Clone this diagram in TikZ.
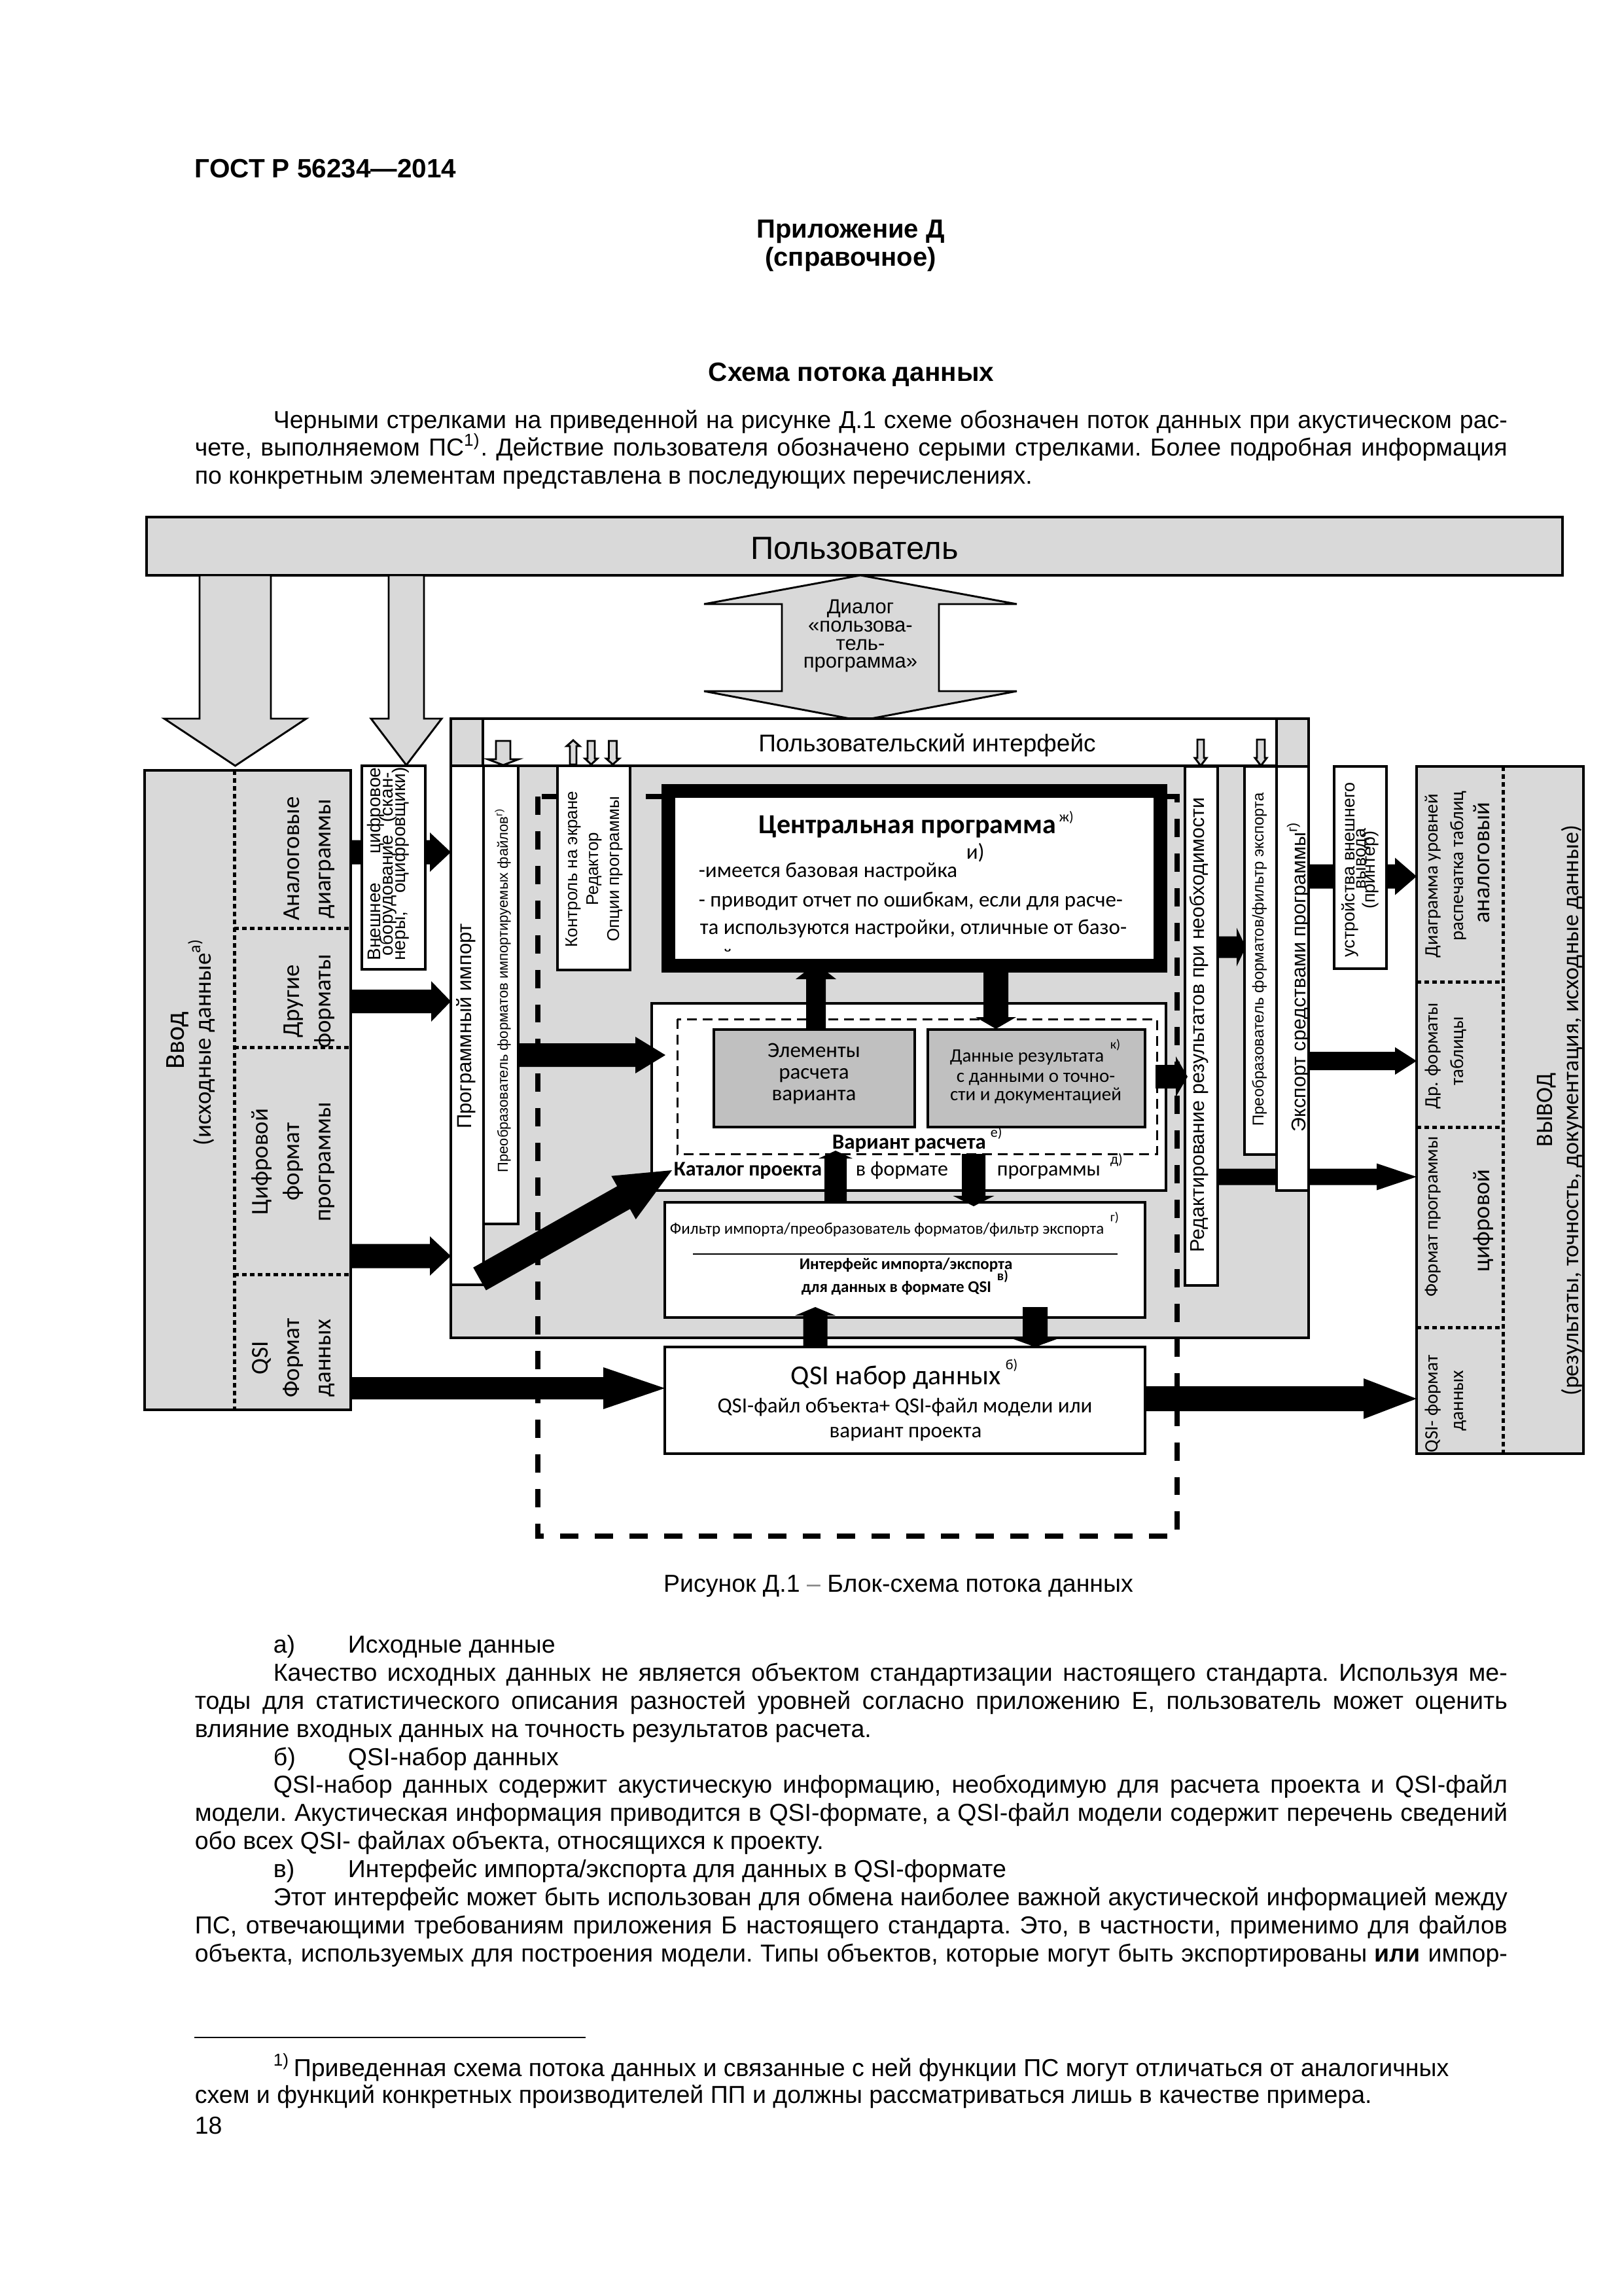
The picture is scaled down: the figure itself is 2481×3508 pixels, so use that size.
\documentclass[tikz,border=0pt]{standalone}
\usepackage{fontspec}
\setmainfont{Liberation Sans}
\newfontfamily\calf{Carlito}
\usetikzlibrary{fit}
\newdimen\px \px=0.24pt
\newcommand\fs[2]{\edef\fsA{\the\dimexpr#1\px\relax}\edef\fsB{\the\dimexpr#2\px\relax}\fontsize{\fsA}{\fsB}\selectfont}
\newcommand\bodyf{\fs{37.5}{43}\frenchspacing}
\definecolor{lg}{RGB}{217,217,217}
\definecolor{mg}{RGB}{192,192,192}
\tikzset{
 box/.style={draw, line width=0.84pt, inner sep=0pt, fill=white},
 gbox/.style={box, fill=lg},
 blk/.style={fill=black},
 garr/.style={draw, fill=lg, line width=0.7pt, line join=miter},
 dotl/.style={line width=1.2pt, dash pattern=on 1.68pt off 1.2pt},
 bigdash/.style={line width=1.92pt, dash pattern=on 6.7pt off 6pt},
 smalldash/.style={line width=0.72pt, dash pattern=on 3.6pt off 2.16pt},
 rt/.style={rotate=90, anchor=base, inner sep=0pt},
 t/.style={inner sep=0pt},
}
\newcommand\harr[6]{\fill ({#1},{#3-(#4)}) -- ({#2-(#6)},{#3-(#4)}) -- ({#2-(#6)},{#3-(#5)}) -- ({#2},{#3}) -- ({#2-(#6)},{#3+(#5)}) -- ({#2-(#6)},{#3+(#4)}) -- ({#1},{#3+(#4)}) -- cycle;}
\newcommand\varr[7][blk]{\path[#1] ({#2-(#5)},{#3}) -- ({#2-(#5)},{#4-(#7)}) -- ({#2-(#6)},{#4-(#7)}) -- ({#2},{#4}) -- ({#2+(#6)},{#4-(#7)}) -- ({#2+(#5)},{#4-(#7)}) -- ({#2+(#5)},{#3}) -- cycle;}
\newcommand\jl[4]{\node[t,anchor=base west] at (#1,#2) {\bodyf\hbox to #3\px{#4}};}
\newcommand\nl[3]{\node[t,anchor=base west] at (#1,#2) {\bodyf #3};}
\begin{document}
\begin{tikzpicture}[x=0.24pt,y=-0.24pt]
\fill[white] (0,0) rectangle (2481,3508);
\useasboundingbox (0,0) rectangle (2481,3508);

% ---------- page header ----------
\node[t,anchor=base west] at (297,272) {\bfseries\fs{40.5}{46}ГОСТ Р 56234—2014};
\node[t,anchor=base] (app) at (1300,364) {\bfseries\fs{40}{46}Приложение Д};
\node[t,anchor=base] (ref) at (1300,407) {\bfseries\fs{40}{46}(справочное)};
\node[t,anchor=base] (ttl) at (1301,583) {\bfseries\fs{40.5}{46}Схема потока данных};
\jl{417}{655}{1886}{Черными стрелками на приведенной на рисунке Д.1 схеме обозначен поток данных при акустическом рас-}
\jl{297}{697}{2006}{чете, выполняемом ПС\textsuperscript{1)}. Действие пользователя обозначено серыми стрелками. Более подробная информация}
\nl{297}{740}{по конкретным элементам представлена в последующих перечислениях.}

% ---------- user bar ----------
\node[gbox, line width=0.9pt, fit={(224,790) (2388,879)}] (user) {};
\node[t,anchor=base] at (1306,855) {\fs{49}{55}Пользователь};

\varr[garr]{359.5}{879}{1170}{54.5}{108.5}{72}
\varr[garr]{621}{879}{1169}{27}{54}{71}
\filldraw[garr] (1195,923) -- (1076,923) -- (1315,879) -- (1554,923) -- (1435,923) -- (1435,1056) -- (1554,1056) -- (1315,1101) -- (1076,1056) -- (1195,1056) -- cycle;
\node[t,anchor=base] at (1315,937) {\fs{31}{28}Диалог};
\node[t,anchor=base] at (1315,965) {\fs{31}{28}«пользова-};
\node[t,anchor=base] at (1315,993) {\fs{31}{28}тель-};
\node[t,anchor=base] at (1315,1020) {\fs{31}{28}программа»};

% ---------- program area ----------
\node[gbox, fit={(689,1098) (2000,2044)}] (prog) {};
\node[box, fit={(738,1098) (1951,1170)}] (ui) {};
\node[t,anchor=base] at (1417,1148) {\fs{37}{40}Пользовательский интерфейс};

\draw[bigdash] (822,1217) rectangle (1799,2347);

\node[box, fit={(689,1170) (739,1963)}] (imp) {};
\node[box, fit={(739,1170) (792,1870)}] (conv) {};
\node[box, fit={(852,1170) (963,1482)}] (ctl) {};
\node[draw, line width=5.04pt, fill=white, inner sep=0pt, fit={(1021,1208) (1773,1475)}] (cp) {};
\node[box, fit={(996,1533) (1782,1819)}] (cat) {};
\draw[smalldash] (1035,1557) rectangle (1768,1763);
\node[box, fill=mg, fit={(1091,1573) (1398,1722)}] (elem) {};
\node[box, fill=mg, fit={(1418,1573) (1750,1722)}] (dat) {};
\node[box, fit={(1016,1837) (1750,2013)}] (filt) {};
\node[box, line width=1.08pt, fit={(1016,2058) (1750,2221)}] (qsi) {};
\node[box, fit={(1811,1171) (1861,1964)}] (red) {};
\node[box, fit={(1902,1171) (1951,1764)}] (cexp) {};
\node[box, fit={(1951,1171) (2000,1819)}] (exp) {};

% small grey arrows in the interface band
\varr[garr]{769}{1132}{1169}{11}{23.5}{9}
\varr[garr]{876}{1168}{1131}{5}{10}{-9}
\varr[garr]{903.5}{1132}{1168}{5.5}{9.5}{9}
\varr[garr]{936.5}{1132}{1168}{6}{10}{9}
\varr[garr]{1835}{1130}{1170}{5}{9}{12}
\varr[garr]{1927}{1130}{1170}{6}{9}{12}

% texts of the inner boxes
\node[t,anchor=base west] at (1159,1273) {\calf\bfseries\fs{42}{48}Центральная программа};
\node[t,anchor=base west] at (1618,1255) {\calf\fs{22}{24}ж)};
\node[t,anchor=base west] at (1476,1312) {\calf\fs{33}{36}и)};
\node[t,anchor=base west] at (1067,1340) {\calf\fs{33}{36}-имеется базовая настройка};
\node[t,anchor=base west] at (1067,1385) {\calf\fs{33}{36}- приводит отчет по ошибкам, если для расче-};
\node[t,anchor=base west] at (1069,1427) {\calf\fs{33}{36}та используются настройки, отличные от базо-};
\begin{scope}
\clip (1036,1219) rectangle (1763,1453);
\node[t,anchor=base west] at (1069,1472) {\calf\fs{33}{36}вой.};
\end{scope}

\node[t,anchor=base] at (1244,1615) {\calf\fs{33}{36}Элементы};
\node[t,anchor=base] at (1244,1648) {\calf\fs{33}{36}расчета};
\node[t,anchor=base] at (1244,1681) {\calf\fs{33}{36}варианта};
\node[t,anchor=base west] at (1451,1622) {\calf\fs{29}{32}Данные результата};
\node[t,anchor=base west] at (1696,1602) {\calf\fs{20}{22}к)};
\node[t,anchor=base] at (1583,1653) {\calf\fs{29}{32}с данными о точно-};
\node[t,anchor=base] at (1583,1681) {\calf\fs{29}{32}сти и документацией};
\node[t,anchor=base west] at (1271,1755) {\calf\bfseries\fs{33}{36}Вариант расчета};
\node[t,anchor=base west] at (1513,1737) {\calf\fs{22}{24}е)};
\node[t,anchor=base west] at (1029,1796) {\calf\bfseries\fs{32}{36}Каталог проекта};
\node[t,anchor=base west] at (1307,1796) {\calf\fs{32}{36}в формате};
\node[t,anchor=base west] at (1523,1796) {\calf\fs{32}{36}программы};
\node[t,anchor=base west] at (1696,1778) {\calf\fs{22}{24}д)};
\node[t,anchor=base west] at (1023,1885) {\calf\fs{25}{28}Фильтр импорта/преобразователь форматов/фильтр экспорта};
\node[t,anchor=base west] at (1696,1866) {\calf\fs{20}{22}г)};
\draw[line width=0.5pt] (1059,1916) -- (1708,1916);
\node[t,anchor=base west] at (1221,1939) {\calf\bfseries\fs{25}{28}Интерфейс импорта/экспорта};
\node[t,anchor=base west] at (1523,1956) {\calf\bfseries\fs{21}{24}в)};
\node[t,anchor=base west] at (1224,1974) {\calf\bfseries\fs{25}{28}для данных в формате QSI};
\node[t,anchor=base west] at (1208,2115) {\calf\fs{42}{46}QSI набор данных};
\node[t,anchor=base west] at (1536,2092) {\calf\fs{22}{24}б)};
\node[t,anchor=base] at (1383,2158) {\calf\fs{33}{36}QSI-файл объекта+ QSI-файл модели или};
\node[t,anchor=base] at (1384,2196) {\calf\fs{33}{36}вариант проекта};

% rotated texts of the columns
\node[rt] at (720,1568) {\fs{31}{34}Программный импорт};
\node[rt] at (776,1513) {\fs{22}{24}Преобразователь форматов импортируемых файлов\textsuperscript{г)}};
\node[rt] at (882,1328) {\fs{26}{28}Контроль на экране};
\node[rt] at (914,1328) {\fs{26}{28}Редактор};
\node[rt] at (946,1328) {\fs{26}{28}Опции программы};
\node[rt] at (1840,1566) {\fs{30.5}{34}Редактирование результатов при необходимости};
\node[rt] at (1931,1466) {\fs{24}{26}Преобразователь форматов/фильтр экспорта};

% ---------- input box ----------
\node[gbox, line width=0.9pt, fit={(221,1177) (536,2154)}] (vvod) {};
\draw[dotl] (358,1177) -- (358,2154);
\draw[dotl] (358,1418) -- (536,1418);
\draw[dotl] (358,1600) -- (536,1600);
\draw[dotl] (358,1947) -- (536,1947);
\node[rt] at (281,1590) {\calf\fs{42}{46}Ввод};
\node[rt] at (322,1592) {\calf\fs{37}{40}(исходные данные\textsuperscript{а)}};
\node[rt] at (457,1312) {\calf\fs{37}{40}Аналоговые};
\node[rt] at (505,1312) {\calf\fs{37}{40}диаграммы};
\node[rt] at (457,1530) {\calf\fs{37}{40}Другие};
\node[rt] at (505,1530) {\calf\fs{37}{40}форматы};
\node[rt] at (409,1775) {\calf\fs{37}{40}Цифровой};
\node[rt] at (457,1775) {\calf\fs{37}{40}формат};
\node[rt] at (505,1775) {\calf\fs{37}{40}программы};
\node[rt] at (409,2075) {\calf\fs{37}{40}QSI};
\node[rt] at (457,2075) {\calf\fs{37}{40}Формат};
\node[rt] at (505,2075) {\calf\fs{37}{40}данных};

% ---------- black arrows ----------
\harr{536}{689}{1302}{18.5}{30}{32}
\harr{536}{689}{1530}{18}{31}{30}
\harr{536}{689}{1919}{18.5}{30}{32}
\harr{536}{1016}{2121}{17}{32}{94}
\harr{792}{1017}{1612}{18}{28}{46}
\fill (723.2,1936.6) -- (943.2,1812.4) -- (934.3,1796.7) -- (1027,1788) -- (971.7,1862.9) -- (962.8,1847.2) -- (742.8,1971.4) -- cycle;
\varr{1247}{1573}{1472}{15}{31}{-24}
\varr{1522}{1483}{1572}{19}{31}{18}
\varr{1277}{1837}{1758}{17}{26}{-12}
\varr{1488}{1763}{1843}{18}{31.5}{16}
\varr{1246}{2058}{1997}{18.5}{31}{-13}
\varr{1582}{1997}{2058}{19}{33}{12}
\harr{1766}{1815}{1645}{18}{31}{18}
\harr{1861}{1904}{1447}{16.5}{29.5}{14}
\harr{1861}{2165}{1798}{12.5}{20.5}{61}
\harr{2000}{2165}{1621}{14}{21}{33}
\harr{2000}{2165}{1339}{18.5}{28.5}{33}
\harr{1750}{2165}{2137}{19}{31}{81}
% export column lies over the arrow passing behind it
\node[box, fit={(1951,1171) (2000,1819)}] (exp2) {};
\node[rt] at (1995,1492) {\fs{30.5}{34}Экспорт средствами программы\textsuperscript{г)}};

% ---------- external equipment ----------
\node[box, fit={(553,1170) (650,1481)}] (ext) {};
\node[rt] at (581,1320) {\fs{28}{20}\hbox to 295\px{Внешнее\hfill цифровое}};
\node[rt] at (600,1320) {\fs{28}{20}\hbox to 280\px{оборудование\hfill(скан-}};
\node[rt] at (619,1320) {\fs{28}{20}\hbox to 295\px{неры,\hfill оцифровщики)}};

\node[box, fit={(2039,1171) (2119,1480)}] (dev) {};
\node[rt] at (2070,1329) {\fs{27}{28}устройства внешнего};
\node[rt] at (2087,1312) {\fs{27}{28}вывода};
\node[rt] at (2101,1329) {\fs{27}{28}(принтер)};

% ---------- output box ----------
\node[gbox, line width=0.9pt, fit={(2165,1171) (2420,2221)}] (out) {};
\draw[dotl] (2297,1171) -- (2297,2221);
\draw[dotl] (2165,1500) -- (2297,1500);
\draw[dotl] (2165,1722) -- (2297,1722);
\draw[dotl] (2165,2028) -- (2297,2028);
\node[rt] at (2197,1338) {\calf\fs{29}{32}Диаграмма уровней};
\node[rt] at (2236,1323) {\calf\fs{29}{32}распечатка таблиц};
\node[rt] at (2276,1318) {\calf\fs{36.5}{40}аналоговый};
\node[rt] at (2197,1613) {\calf\fs{29}{32}Др. форматы};
\node[rt] at (2236,1606) {\calf\fs{29}{32}таблицы};
\node[rt] at (2197,1859) {\calf\fs{29}{32}Формат программы};
\node[rt] at (2276,1865) {\calf\fs{36.5}{40}цифровой};
\node[rt] at (2197,2145) {\calf\fs{29}{32}QSI- формат};
\node[rt] at (2236,2140) {\calf\fs{29}{32}данных};
\node[rt] at (2372,1696) {\calf\fs{36}{40}ВЫВОД};
\node[rt] at (2412,1697) {\calf\fs{36}{40}(результаты, точность, документация, исходные данные)};

% ---------- caption and text ----------
\node[t,anchor=base] (cap) at (1373,2432) {\bodyf Рисунок Д.1 {\color{gray}–} Блок-схема потока данных};

\nl{417}{2525}{а)}
\nl{531}{2525}{Исходные данные}
\jl{417}{2568}{1886}{Качество исходных данных не является объектом стандартизации настоящего стандарта. Используя ме-}
\jl{297}{2611}{2006}{тоды для статистического описания разностей уровней согласно приложению Е, пользователь может оценить}
\nl{297}{2654}{влияние входных данных на точность результатов расчета.}
\nl{417}{2697}{б)}
\nl{531}{2697}{QSI-набор данных}
\jl{417}{2739}{1886}{QSI-набор данных содержит акустическую информацию, необходимую для расчета проекта и QSI-файл}
\jl{297}{2782}{2006}{модели. Акустическая информация приводится в QSI-формате, а QSI-файл модели содержит перечень сведений}
\nl{297}{2825}{обо всех QSI- файлах объекта, относящихся к проекту.}
\nl{417}{2868}{в)}
\nl{531}{2868}{Интерфейс импорта/экспорта для данных в QSI-формате}
\jl{417}{2911}{1886}{Этот интерфейс может быть использован для обмена наиболее важной акустической информацией между}
\jl{297}{2954}{2006}{ПС, отвечающими требованиям приложения Б настоящего стандарта. Это, в частности, применимо для файлов}
\jl{297}{2997}{2006}{объекта, используемых для построения модели. Типы объектов, которые могут быть экспортированы \textbf{или} импор-}

\draw[line width=0.7pt] (297,3113) -- (895,3113);
\nl{417}{3172}{\textsuperscript{1)}}
\nl{448}{3172}{Приведенная схема потока данных и связанные с ней функции ПС могут отличаться от аналогичных}
\nl{297}{3213}{схем и функций конкретных производителей ПП и должны рассматриваться лишь в качестве примера.}
\nl{297}{3260}{18}
\end{tikzpicture}
\end{document}
